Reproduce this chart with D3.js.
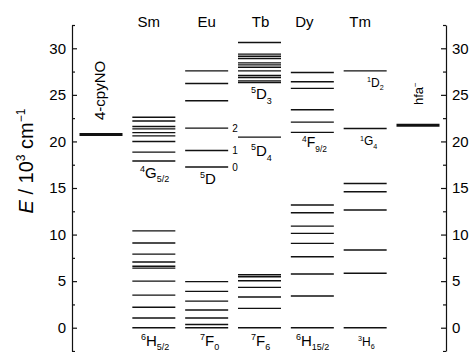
<!DOCTYPE html>
<html><head><meta charset="utf-8">
<script src="https://cdn.jsdelivr.net/npm/d3@7"></script>
<style>body{margin:0;background:#fff} svg{display:block} text{font-family:Arial,"Liberation Sans",sans-serif;fill:#000}</style>
</head><body><svg id="c" width="476" height="352"></svg>
<script>
// ---- data ----
const columnKeys = ["cpy","Sm","Eu","Tb","Dy","Tm","hfa"];
const ionNames = ["Sm","Eu","Tb","Dy","Tm"];
const smLevels = [0, 1.05, 2.2, 3.5, 5.0, 6.4, 6.6, 7.05, 7.9, 9.1, 10.4,
                  17.9, 18.85, 20.0, 20.6, 20.95, 21.35, 21.6, 22.2, 22.6];
const euLevels = [0, 0.35, 1.05, 1.9, 2.85, 3.9, 4.95,
                  17.25, 19.03, 21.43, 24.36, 26.22, 27.58];
const euNumbers = ["0","1","2"];
const tbLevels = [0, 2.08, 3.29, 4.33, 5.04, 5.47, 5.69,
                  20.46, 26.33, 26.5, 26.87, 27.08, 27.58, 27.97, 28.22, 28.43, 28.9, 29.15, 29.37, 30.62];
const dyLevels = [0, 3.4, 5.76, 7.62, 9.06, 10.13, 10.91, 12.34, 13.17,
                  20.97, 22.07, 23.4, 25.7, 26.4, 27.4];
const tmLevels = [0, 5.84, 8.34, 12.63, 14.59, 15.49, 21.39, 27.58];
const ligandNames = ["4-cpyNO","hfa"];
const ligandLevels = [20.75, 21.75];
const yTicks = [0,5,10,15,20,25,30];
const yMinorTicks = [-2.5,2.5,7.5,12.5,17.5,22.5,27.5,32.5];
const axisTitle = ["E", " / 10", "3", " cm", "−1"];

const levelsByIon = {Sm: smLevels, Eu: euLevels, Tb: tbLevels, Dy: dyLevels, Tm: tmLevels};

// ---- scales ----
const svg = d3.select("#c");
const x = d3.scalePoint().domain(columnKeys).range([101, 418]);
const y = d3.scaleLinear().domain([-2.5, 32.5]).range([351, 25]);
const half = 21.5;
const ink = "#111";

// ---- axes ----
const leftX = 72, rightX = 446;
function drawAxis(xpos, gen) {
  const g = svg.append("g").attr("transform", `translate(${xpos},0)`)
    .call(gen.tickValues(yTicks).tickSizeInner(-5).tickSizeOuter(0).tickPadding(6));
  g.selectAll("text").attr("font-size", 15).attr("font-family", "Arial, 'Liberation Sans', sans-serif");
  g.select(".domain").attr("stroke", ink).attr("stroke-width", 1.2);
  g.selectAll(".tick line").attr("stroke", ink).attr("stroke-width", 1.2);
  const m = svg.append("g").attr("transform", `translate(${xpos},0)`)
    .call(gen.tickValues(yMinorTicks).tickSizeInner(-3).tickSizeOuter(0).tickFormat(""));
  m.select(".domain").remove();
  m.selectAll(".tick line").attr("stroke", ink).attr("stroke-width", 1.2);
}
drawAxis(leftX, d3.axisLeft(y));
drawAxis(rightX, d3.axisRight(y));

// axis title
const at = svg.append("text").attr("transform", `translate(33,${y(17.9)}) rotate(-90)`)
  .attr("text-anchor", "middle").attr("font-size", 20);
at.append("tspan").attr("font-style", "italic").text(axisTitle[0]);
at.append("tspan").text(axisTitle[1]);
at.append("tspan").attr("font-size", 12).attr("dy", -8).text(axisTitle[2]);
at.append("tspan").attr("dy", 8).text(axisTitle[3]);
at.append("tspan").attr("font-size", 12).attr("dy", -8).text(axisTitle[4]);

// ---- headers ----
const headerDx = {Sm: -5, Eu: 0, Tb: 1, Dy: -8, Tm: -5};
svg.selectAll("text.hdr").data(ionNames).join("text").attr("class", "hdr")
  .attr("x", d => x(d) + headerDx[d]).attr("y", 27).attr("text-anchor", "middle")
  .attr("font-size", 15).text(d => d);

// ---- level lines ----
ionNames.forEach(ion => {
  svg.append("g").selectAll("line").data(levelsByIon[ion]).join("line")
    .attr("x1", x(ion) - half).attr("x2", x(ion) + half)
    .attr("y1", d => y(d)).attr("y2", d => y(d))
    .attr("stroke", ink).attr("stroke-width", 1.4);
});
// ligand triplet levels
const ligKeys = ["cpy", "hfa"];
svg.append("g").selectAll("line").data(ligandLevels).join("line")
  .attr("x1", (d, i) => x(ligKeys[i]) - half).attr("x2", (d, i) => x(ligKeys[i]) + half)
  .attr("y1", d => y(d)).attr("y2", d => y(d))
  .attr("stroke", ink).attr("stroke-width", 3);
// ligand labels
svg.append("text").attr("transform", `translate(105,120) rotate(-90)`).attr("font-size", 15).text(ligandNames[0]);
const hfaT = svg.append("text").attr("transform", `translate(423,105) rotate(-90)`).attr("font-size", 13);
hfaT.append("tspan").text(ligandNames[1]);
hfaT.append("tspan").attr("font-size", 8).attr("dy", -5).text("−");

// Eu 5DJ numbers
svg.selectAll("text.eun").data(euNumbers).join("text").attr("class", "eun")
  .attr("x", x("Eu") + half + 4).attr("y", (d, i) => y(euLevels[7 + i]) + 4)
  .attr("font-size", 10).text(d => d);

// ---- term symbols ----
function term(xs, ys, sup, main, sub, size) {
  const t = svg.append("text").attr("x", xs).attr("y", ys).attr("font-size", size);
  t.append("tspan").attr("font-size", size * 0.6).attr("dy", -size * 0.4).text(sup);
  t.append("tspan").attr("dy", size * 0.4).text(main);
  t.append("tspan").attr("font-size", size * 0.6).attr("dy", size * 0.3).text(sub);
}
const base = y(0) + 18;
term(140, y(17.9) + 17, "4", "G", "5/2", 15);
term(141, base, "6", "H", "5/2", 15);
term(200, y(17.25) + 17, "5", "D", "", 15);
term(200, base, "7", "F", "0", 15);
term(251, y(26.33) + 17, "5", "D", "3", 15);
term(251, y(20.46) + 19, "5", "D", "4", 15);
term(251, base, "7", "F", "6", 15);
term(302, y(20.97) + 15, "4", "F", "9/2", 14);
term(296, base, "6", "H", "15/2", 15);
term(367, y(27.58) + 16, "1", "D", "2", 12);
term(360, y(21.39) + 17, "1", "G", "4", 12);
term(358, base, "3", "H", "6", 12);
</script></body></html>
